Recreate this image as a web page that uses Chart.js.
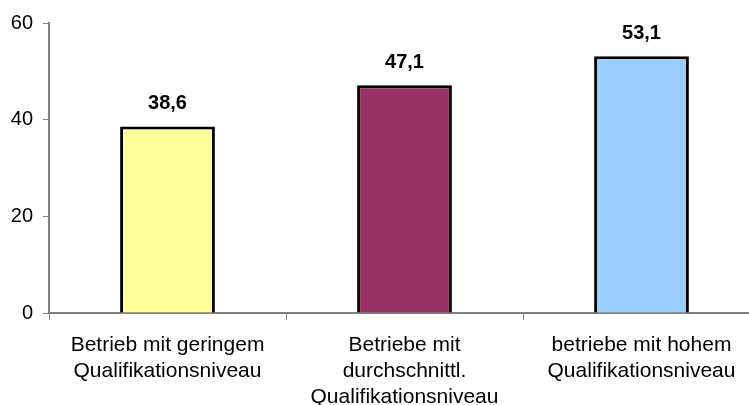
<!DOCTYPE html>
<html>
<head>
<meta charset="utf-8">
<script src="https://cdn.jsdelivr.net/npm/chart.js@4"></script>
<style>
    html, body { margin: 0; padding: 0; background: #fff; overflow: hidden; }
    #wrap { width: 749px; height: 405px; overflow: hidden; position: relative; }
    #box { width: 760px; height: 420px; position: absolute; left: 0; top: 0; }
</style>
</head>
<body>
<div id="wrap"><div id="box"><canvas id="qualiChart"></canvas></div></div>
<script>
// Daten
const kategorien = [
    ['Betrieb mit geringem', 'Qualifikationsniveau'],
    ['Betriebe mit', 'durchschnittl.', 'Qualifikationsniveau'],
    ['betriebe mit hohem', 'Qualifikationsniveau']
];
const werte = [38.6, 47.1, 53.1];
const farben = ['#FFFF99', '#993366', '#99CCFF'];
const yTicks = [0, 20, 40, 60];

const schrift = "'Liberation Sans', Arial, sans-serif";

// Werte über den Balken
const wertLabels = {
    id: 'wertLabels',
    afterDatasetsDraw(chart) {
        const ctx = chart.ctx;
        const meta = chart.getDatasetMeta(0);
        ctx.save();
        ctx.font = 'bold 20px ' + schrift;
        ctx.fillStyle = '#000';
        ctx.textAlign = 'center';
        ctx.textBaseline = 'alphabetic';
        meta.data.forEach((bar, i) => {
            ctx.fillText(werte[i].toFixed(1).replace('.', ','), bar.x, bar.y - 17);
        });
        ctx.restore();
    }
};

new Chart(document.getElementById('qualiChart').getContext('2d'), {
    type: 'bar',
    data: {
        labels: kategorien,
        datasets: [{
            data: werte,
            backgroundColor: farben,
            borderColor: '#000',
            borderWidth: 3,
            barPercentage: 0.4,
            categoryPercentage: 1
        }]
    },
    options: {
        responsive: true,
        maintainAspectRatio: false,
        animation: false,
        layout: { padding: { top: 23, left: 0, right: 0, bottom: 0 } },
        plugins: {
            legend: { display: false },
            tooltip: { enabled: false }
        },
        scales: {
            x: {
                afterFit: scale => { scale.height = 107; },
                grid: {
                    display: true,
                    drawOnChartArea: false,
                    drawTicks: true,
                    offset: true,
                    tickLength: 7,
                    color: '#808080'
                },
                border: { display: true, color: '#808080', width: 2 },
                ticks: {
                    color: '#000',
                    padding: 12,
                    maxRotation: 0,
                    autoSkip: false,
                    font: { family: schrift, size: 21, lineHeight: 1.25 }
                }
            },
            y: {
                min: 0,
                max: 60,
                afterFit: scale => { scale.width = 49; },
                afterBuildTicks: scale => { scale.ticks = yTicks.map(v => ({ value: v })); },
                grid: {
                    display: true,
                    drawOnChartArea: false,
                    drawTicks: true,
                    tickLength: 6,
                    color: '#808080'
                },
                border: { display: true, color: '#808080', width: 2 },
                ticks: {
                    color: '#000',
                    padding: 10,
                    font: { family: schrift, size: 20 }
                }
            }
        }
    },
    plugins: [wertLabels]
});
</script>
</body>
</html>
